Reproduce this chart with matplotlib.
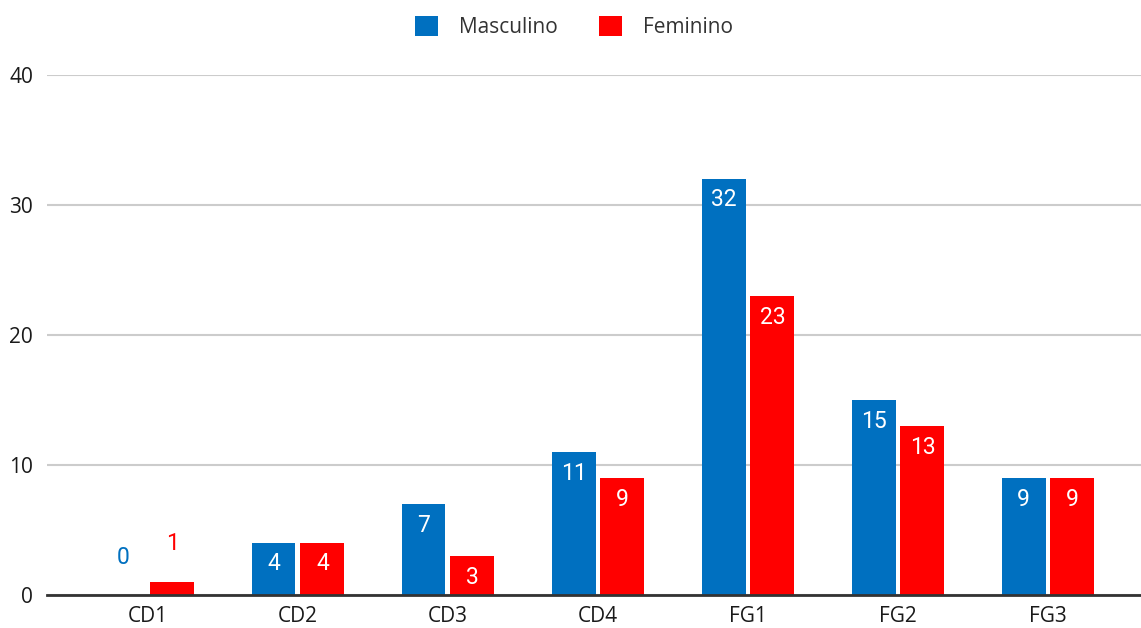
import numpy as np
import matplotlib
matplotlib.use("Agg")
from matplotlib import pyplot as plt

# data
categorias = ["CD1", "CD2", "CD3", "CD4", "FG1", "FG2", "FG3"]
masculino = [0, 4, 7, 11, 32, 15, 9]
feminino = [1, 4, 3, 9, 23, 13, 9]
yticks = [0, 10, 20, 30, 40]

azul = "#0070C0"
vermelho = "#FF0000"

plt.rcParams['font.family'] = ['Open Sans', 'DejaVu Sans']

fig = plt.figure(figsize=(11.41, 6.28), dpi=100)
ax = fig.add_axes([47/1141, 33/628, (1141-47)/1141, (595-75)/628])

x = np.arange(len(categorias))
w = 0.293
off = 0.163

b1 = ax.bar(x - off, masculino, w, color=azul, label="Masculino", zorder=3)
b2 = ax.bar(x + off, feminino, w, color=vermelho, label="Feminino", zorder=3)

# value labels: white inside the bar, coloured above when the bar is too short
for bars, vals, cor in [(b1, masculino, azul), (b2, feminino, vermelho)]:
    for b, v in zip(bars, vals):
        cx = b.get_x() + b.get_width()/2
        if v >= 3:
            ax.annotate(str(v), (cx, v), xytext=(0, -21), textcoords="offset pixels",
                        ha="center", va="center", color="white", fontsize=16.5,
                        family=['Roboto', 'DejaVu Sans'], zorder=4)
        else:
            ax.annotate(str(v), (cx, v), xytext=(0, 38), textcoords="offset pixels",
                        ha="center", va="center", color=cor, fontsize=16.5,
                        family=['Roboto', 'DejaVu Sans'], zorder=4)

ax.set_xlim(-0.673, 6.62)
ax.set_ylim(0, 40)
ax.set_yticks(yticks)
ax.set_xticks(x)
ax.set_xticklabels(categorias)
ax.tick_params(axis='both', length=0, labelsize=15, colors="#1a1a1a")
ax.tick_params(axis='y', pad=10)
ax.tick_params(axis='x', pad=8)
ax.grid(axis='y', color="#cccccc", linewidth=1.5, zorder=0)
for s in ["top", "right", "left"]:
    ax.spines[s].set_visible(False)
ax.spines["bottom"].set_color("#333333")
ax.spines["bottom"].set_linewidth(2)
ax.spines["bottom"].set_zorder(5)

fig.legend(loc="upper center", bbox_to_anchor=(0.503, 1.005), ncol=2, frameon=False,
           fontsize=15, handlelength=1.1, handleheight=1.1, columnspacing=2.0,
           handletextpad=1.0, labelcolor="#333333")

fig.savefig("out.png", dpi=100)
